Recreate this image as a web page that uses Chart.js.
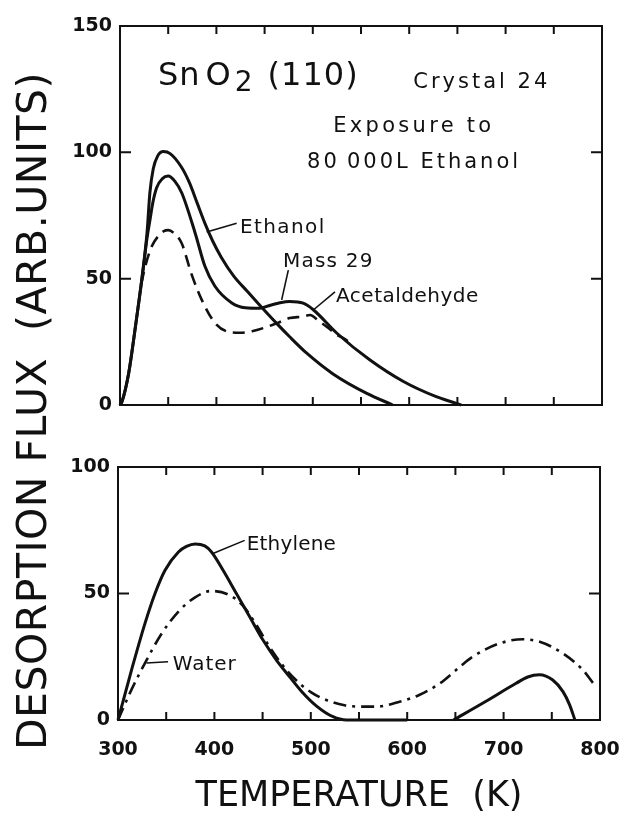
<!DOCTYPE html>
<html>
<head>
<meta charset="utf-8">
<script src="https://cdn.jsdelivr.net/npm/chart.js@4.4.1/dist/chart.umd.min.js"></script>
<style>
  html, body { margin: 0; padding: 0; background: #fff; }
  #page { position: relative; width: 621px; height: 814px; overflow: hidden; }
  .panel { position: absolute; left: 0; width: 621px; }
  #topWrap { top: 0; height: 425px; }
  #bottomWrap { top: 425px; height: 389px; }
  #yTitle {
    position: absolute; left: -330px; top: 389px; width: 720px; height: 44px;
    line-height: 44px; text-align: center; color: #111;
    font: 41px 'DejaVu Sans', sans-serif; letter-spacing: 0.5px;
    transform: rotate(-90deg); white-space: pre;
  }
</style>
</head>
<body>
<div id="page">
  <div class="panel" id="topWrap"><canvas id="topChart"></canvas></div>
  <div class="panel" id="bottomWrap"><canvas id="bottomChart"></canvas></div>
  <div id="yTitle">DESORPTION FLUX  (ARB.UNITS)</div>
</div>
<script>
const INK = '#111';
const FONT = "'DejaVu Sans', sans-serif";

// tick labels
const xTickLabels = ['300', '400', '500', '600', '700', '800'];
const topYTickLabels = ['0', '50', '100', '150'];
const bottomYTickLabels = ['0', '50', '100'];

// upper panel (K, arb. units)
const ethanolT = [300, 302, 309, 316, 322.5, 328, 331, 334.5, 339, 345, 352, 364, 372, 380, 388, 396, 405, 418, 432, 445, 462, 476, 494, 521, 556, 583];
const ethanolV = [0, 1.3, 12.6, 31, 49.6, 68, 84, 93.5, 98.5, 100.3, 99.5, 94, 88, 80, 72, 65, 58.5, 51, 45, 39.5, 32.5, 27, 20.4, 12.3, 4.6, 0];

const mass29T = [300, 302, 309, 316, 322.5, 328, 331, 334, 338, 344, 350, 357, 364, 378, 388, 398.5, 416, 430, 445, 456, 466, 476, 490, 500.5, 525, 559, 594, 628, 646, 654];
const mass29V = [0, 1.3, 12.6, 31, 49, 66, 73, 80, 86, 89.6, 90.6, 88.5, 84, 68, 55, 47, 40.4, 38.5, 38.3, 39.5, 40.5, 41, 40.3, 37.7, 28.4, 17.9, 9.3, 3.3, 1, 0];

const acetT = [322, 327, 333, 340, 345, 350, 356, 364, 374, 384.7, 398.5, 412, 425, 437, 450, 463, 476, 490, 497, 507, 514.4, 525, 531.6, 542];
const acetV = [48, 56, 62.8, 67, 68.7, 69.2, 68, 64, 52, 41.7, 32.5, 29, 28.6, 29.2, 30.6, 32.4, 34.4, 35, 35.6, 33, 31, 27.8, 26.5, 23.8];

// lower panel (null = pen lifted between the two ethylene peaks)
const ethyleneT = [300, 314, 328, 338.4, 348.8, 362.7, 371, 380, 390, 397, 409, 422.8, 436.6, 450.4, 464.3, 478, 490, 506, 523, 537, 560, 600, 624, 648, 680, 713, 725, 737, 751, 761.6, 768.6, 774];
const ethyleneV = [0, 19.7, 38.2, 50, 59.2, 66.4, 68.6, 69.6, 68.8, 66.4, 59.2, 50, 40.8, 31.6, 23.7, 17.1, 11.5, 5.5, 1.3, 0, 0, 0, null, 0, 7, 14.5, 17, 17.9, 15.8, 11.2, 5.9, 0];

const waterT = [300, 314, 328, 345, 363, 380, 397, 416, 430, 443.6, 457, 470, 484, 500, 516, 535, 551, 568, 592, 613, 634, 654.5, 668, 696, 720, 737.5, 761.6, 782.4, 793];
const waterV = [0, 12, 22.5, 34, 43, 48.5, 51, 49.3, 45, 37.5, 29, 22, 16, 11, 7.9, 5.8, 5.3, 5.3, 7.2, 10, 14.5, 21, 25, 30.3, 31.9, 30.9, 26.3, 19.7, 14.5];

const pts = (xs, ys) => xs.map((x, i) => ({ x, y: ys[i] }));

function series(label, xs, ys, dash, width) {
  return {
    label,
    data: pts(xs, ys),
    borderColor: INK,
    borderWidth: width || 3,
    borderDash: dash || [],
    pointRadius: 0,
    cubicInterpolationMode: 'monotone',
    fill: false,
    spanGaps: false,
    clip: 6
  };
}

// frame, inward ticks and the hand lettered notes
const framePlugin = {
  id: 'frame',
  afterDraw(chart, args, opts) {
    const { ctx, chartArea: a, scales: { x, y } } = chart;
    ctx.save();
    ctx.strokeStyle = INK;
    ctx.lineWidth = 2;
    ctx.strokeRect(a.left, a.top, a.right - a.left, a.bottom - a.top);

    ctx.beginPath();
    x.ticks.forEach(t => {
      if (t.value <= x.min || t.value >= x.max) return;
      const px = x.getPixelForValue(t.value);
      ctx.moveTo(px, a.bottom); ctx.lineTo(px, a.bottom - 8);
      ctx.moveTo(px, a.top); ctx.lineTo(px, a.top + 8);
    });
    y.ticks.forEach(t => {
      if (t.value <= y.min || t.value >= y.max) return;
      const py = y.getPixelForValue(t.value);
      ctx.moveTo(a.left, py); ctx.lineTo(a.left + 11, py);
      ctx.moveTo(a.right, py); ctx.lineTo(a.right - 11, py);
    });
    ctx.stroke();

    // leaders
    ctx.lineWidth = 1.6;
    (opts.notes || []).forEach(n => {
      if (!n.from) return;
      ctx.beginPath();
      ctx.moveTo(x.getPixelForValue(n.from[0]), y.getPixelForValue(n.from[1]));
      ctx.lineTo(x.getPixelForValue(n.to[0]), y.getPixelForValue(n.to[1]));
      ctx.stroke();
    });

    // text
    ctx.fillStyle = INK;
    ctx.textBaseline = 'alphabetic';
    ctx.textAlign = 'left';
    (opts.notes || []).forEach(n => {
      let px = x.getPixelForValue(n.x);
      const py = y.getPixelForValue(n.y);
      ctx.letterSpacing = (n.spacing || 0) + 'px';
      n.parts.forEach(p => {
        ctx.font = (p.size || 20) + 'px ' + FONT;
        ctx.fillText(p.text, px, py + (p.drop || 0));
        px += ctx.measureText(p.text).width + (p.gap || 0);
      });
    });
    ctx.restore();
  }
};

function panel(canvasId, yMax, yLabels, showX, padding, leftW, notes, datasets) {
  return new Chart(document.getElementById(canvasId), {
    type: 'line',
    data: { datasets },
    plugins: [framePlugin],
    options: {
      responsive: true,
      maintainAspectRatio: false,
      animation: false,
      layout: { padding },
      plugins: {
        legend: { display: false },
        tooltip: { enabled: false },
        frame: { notes }
      },
      scales: {
        x: {
          type: 'linear',
          min: 300,
          max: 800,
          grid: { display: false, drawTicks: false },
          border: { display: false },
          ticks: {
            stepSize: 50,
            display: showX,
            autoSkip: false,
            maxRotation: 0,
            padding: 19,
            color: INK,
            font: { family: FONT, size: 19, weight: 'bold' },
            callback: v => xTickLabels.includes(String(v)) ? String(v) : ''
          },
          title: {
            display: showX,
            text: 'TEMPERATURE  (K)',
            color: INK,
            padding: 0,
            font: { family: FONT, size: 35, lineHeight: 1 }
          },
          afterFit: s => {
            s.height = showX ? 94 : 0;
            s.paddingLeft = 0;
            s.paddingRight = 0;
          }
        },
        y: {
          min: 0,
          max: yMax,
          grid: { display: false, drawTicks: false },
          border: { display: false },
          ticks: {
            stepSize: 50,
            padding: 8,
            color: INK,
            font: { family: FONT, size: 19, weight: 'bold' },
            callback: v => yLabels.includes(String(v)) ? String(v) : ''
          },
          afterFit: s => { s.width = leftW; }
        }
      }
    }
  });
}

const topNotes = [
  { x: 339.4, y: 126.6, spacing: 1, parts: [
    { text: 'Sn', size: 32, gap: 5 },
    { text: 'O', size: 32, gap: 3 },
    { text: '2', size: 28, drop: 6, gap: 14 },
    { text: '(110)', size: 32 }
  ] },
  { x: 604.2, y: 125.4, spacing: 3, parts: [{ text: 'Crystal 24', size: 21 }] },
  { x: 521.2, y: 108, spacing: 3.3, parts: [{ text: 'Exposure to', size: 21 }] },
  { x: 494, y: 93.8, spacing: 3, parts: [{ text: '80\u2009000L Ethanol', size: 21 }] },
  { x: 424.5, y: 68.1, spacing: 1.4, parts: [{ text: 'Ethanol' }], from: [389.9, 68.5], to: [421, 71.9] },
  { x: 469.1, y: 54.6, spacing: 1.2, parts: [{ text: 'Mass 29' }], from: [467.7, 41.6], to: [474.6, 53.4] },
  { x: 524.1, y: 40.8, spacing: 0.5, parts: [{ text: 'Acetaldehyde' }], from: [500.5, 37.6], to: [523, 44.8] }
];

const bottomNotes = [
  { x: 433.5, y: 67.1, spacing: 0.2, parts: [{ text: 'Ethylene' }], from: [398.5, 65.8], to: [431.4, 71] },
  { x: 356.7, y: 19.7, spacing: 1, parts: [{ text: 'Water' }], from: [329.5, 22.5], to: [351.9, 23] }
];

panel('topChart', 150, topYTickLabels, false, { top: 26, right: 19, bottom: 20, left: 0 }, 120, topNotes, [
  series('Ethanol', ethanolT, ethanolV),
  series('Mass 29', mass29T, mass29V),
  series('Acetaldehyde', acetT, acetV, [12, 7], 2.6)
]);

panel('bottomChart', 100, bottomYTickLabels, true, { top: 42, right: 21, bottom: 0, left: 0 }, 118, bottomNotes, [
  series('Ethylene', ethyleneT, ethyleneV),
  series('Water', waterT, waterV, [13, 6, 3, 6], 2.6)
]);
</script>
</body>
</html>
